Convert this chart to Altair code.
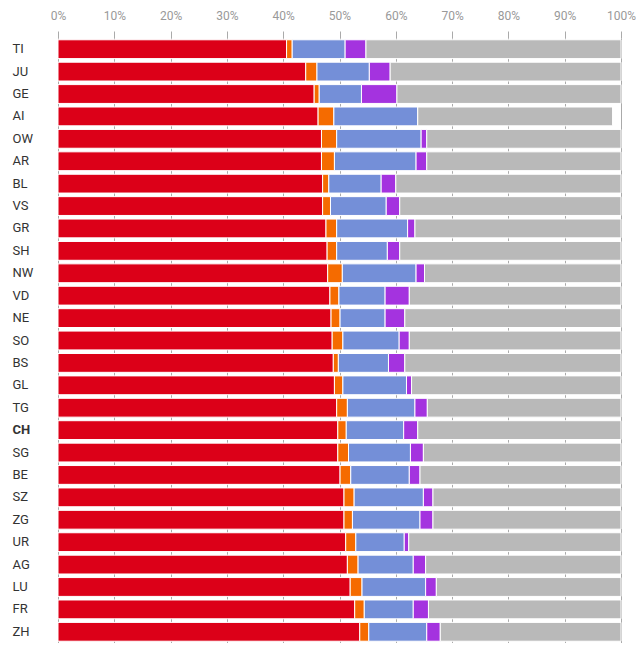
import altair as alt
import pandas as pd

cantons = ["TI", "JU", "GE", "AI", "OW", "AR", "BL", "VS", "GR", "SH", "NW", "VD", "NE", "SO",
           "BS", "GL", "TG", "CH", "SG", "BE", "SZ", "ZG", "UR", "AG", "LU", "FR", "ZH"]
red    = [40.6, 44.0, 45.5, 46.2, 46.8, 46.8, 47.0, 47.0, 47.6, 47.8, 47.9, 48.3, 48.5, 48.7,
          48.9, 49.1, 49.5, 49.7, 49.7, 50.1, 50.8, 50.8, 51.1, 51.4, 51.9, 52.7, 53.6]
orange = [1.0, 2.0, 0.9, 2.8, 2.7, 2.3, 1.1, 1.4, 1.9, 1.7, 2.6, 1.6, 1.6, 1.9,
          0.9, 1.5, 1.9, 1.5, 1.9, 1.9, 1.8, 1.5, 1.8, 1.9, 2.1, 1.7, 1.6]
blue   = [9.4, 9.3, 7.5, 14.9, 15.0, 14.5, 9.3, 9.9, 12.6, 9.0, 13.1, 8.2, 8.0, 10.0,
          8.9, 11.3, 12.0, 10.2, 11.0, 10.4, 12.3, 12.0, 8.6, 9.8, 11.3, 8.7, 10.3]
purple = [3.7, 3.7, 6.3, 0.0, 1.0, 1.9, 2.6, 2.4, 1.3, 2.2, 1.5, 4.3, 3.5, 1.8,
          2.9, 0.9, 2.2, 2.5, 2.3, 1.9, 1.7, 2.3, 0.8, 2.2, 1.9, 2.7, 2.4]
gray   = [45.3, 41.0, 39.8, 34.6, 34.5, 34.5, 40.0, 39.3, 36.6, 39.3, 34.9, 37.6, 38.4, 37.6,
          38.4, 37.2, 34.4, 36.1, 35.1, 35.7, 33.4, 33.4, 37.7, 34.7, 32.8, 34.2, 32.1]

series_names = ["s1", "s2", "s3", "s4", "s5"]
series_colors = ["#dc0018", "#f56b00", "#748fd8", "#a433df", "#b9b9b9"]
series_values = [red, orange, blue, purple, gray]

rows = []
for si, (name, vals) in enumerate(zip(series_names, series_values)):
    for c, v in zip(cantons, vals):
        rows.append({"canton": c, "series": name, "order": si, "value": v})
df = pd.DataFrame(rows)

chart = alt.Chart(df).mark_bar(stroke="white", strokeWidth=1).encode(
    x=alt.X("value:Q", stack="zero",
            scale=alt.Scale(domain=[0, 100], nice=False),
            axis=alt.Axis(orient="top", values=list(range(0, 101, 10)),
                          labelExpr="datum.value + '%'", title=None, labelFlush=False,
                          domain=False, grid=True, gridColor="#aaaaaa", gridWidth=1,
                          tickColor="#aaaaaa", tickSize=7, labelPadding=9,
                          labelColor="#999999", labelFontSize=12, labelFont="Roboto")),
    y=alt.Y("canton:N", sort=cantons,
            scale=alt.Scale(paddingInner=0.16, paddingOuter=0.08),
            axis=alt.Axis(title=None, domain=False, ticks=False, grid=False,
                          labelAlign="left", labelPadding=46, labelFontSize=13,
                          labelFont="Roboto", labelColor="#333333",
                          labelFontWeight={"condition": {"test": "datum.value == 'CH'", "value": 700},
                                           "value": 400})),
    color=alt.Color("series:N", scale=alt.Scale(domain=series_names, range=series_colors),
                    legend=None),
    order=alt.Order("order:Q", sort="ascending"),
).properties(
    width=563, height=605,
    autosize=alt.AutoSizeParams(type="none"),
    padding={"left": 50, "top": 30, "right": 15, "bottom": 0},
).configure_view(stroke=None)

chart.save("out.html", embed_options={"renderer": "svg", "actions": False})
